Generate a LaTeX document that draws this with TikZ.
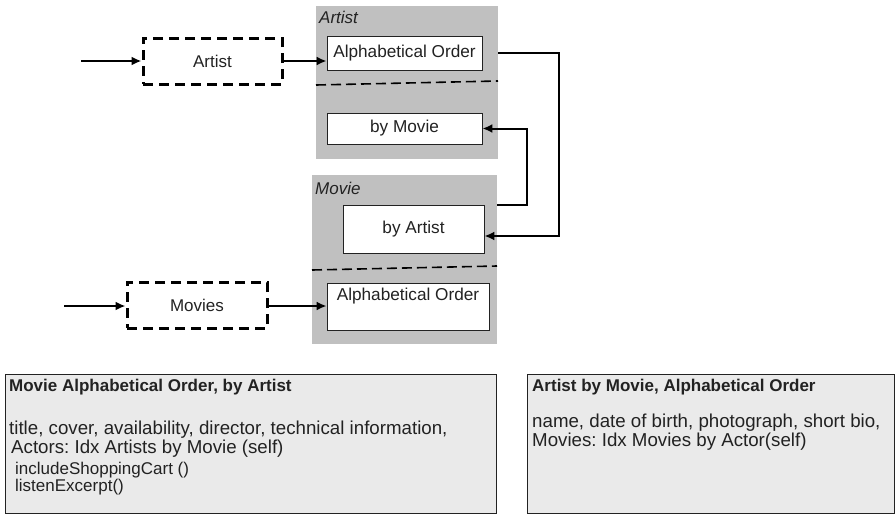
\documentclass[tikz,border=0pt]{standalone}
\usepackage{fontspec}
\setmainfont{Liberation Sans}
\usetikzlibrary{arrows.meta}
\definecolor{panelgray}{HTML}{C0C0C0}
\definecolor{notegray}{HTML}{EAEAEA}
\definecolor{inkgray}{HTML}{222222}
\newcommand{\headfont}{\fontsize{17}{18}\selectfont\bfseries}
\newcommand{\methfont}{\fontsize{17}{17}\selectfont}
\frenchspacing

\begin{document}
\begin{tikzpicture}[x=1pt, y=-1pt,
    panel/.style={fill=panelgray, inner sep=0pt, outer sep=0pt},
    tag/.style={text=inkgray, font=\fontsize{17}{18}\selectfont\itshape, inner sep=0pt},
    idx/.style={draw=inkgray, fill=white, line width=0.8pt, text=inkgray,
      font=\fontsize{17.2}{18}\selectfont, inner sep=0pt},
    entry/.style={draw=black, line width=3pt, dash pattern=on 10pt off 6pt,
      text=inkgray, font=\fontsize{17}{18}\selectfont, inner sep=0pt},
    flow/.style={-{Latex[length=10pt,width=9pt]}, line width=2pt},
    sep/.style={dash pattern=on 10pt off 5pt, line width=1.6pt},
    note/.style={draw=inkgray, fill=notegray, line width=1.2pt, inner sep=0pt},
    notetext/.style={text=inkgray, align=left, inner sep=0pt, anchor=north west,
      font=\fontsize{18.7}{17}\selectfont}]
  \useasboundingbox (0,0) rectangle (896,514);

  \node[panel, minimum width=182, minimum height=153] (artpanel) at (407,82.5) {};
  \node[panel, minimum width=185, minimum height=169] (movpanel) at (404.5,259.5) {};
  \node[tag, anchor=west] (arttag) at (319,17) {Artist};
  \node[tag, anchor=west] (movtag) at (315,188) {Movie};

  \node[idx, minimum width=155, minimum height=34] (artalpha) at (404.5,53) {Alphabetical Order};
  \node[idx, minimum width=155, minimum height=31] (artbymov) at (404.5,128.5) {by Movie};
  \node[idx, minimum width=141, minimum height=48] (movbyart) at (413.5,229) {by Artist};
  \node[idx, minimum width=162, text height=12, text depth=25, inner ysep=5]
    (movalpha) at (408,306.5) {Alphabetical Order};

  \draw[sep] (artpanel.west |- 0,85) -- (artpanel.east |- 0,81);
  \draw[sep] (movpanel.west |- 0,270) -- (movpanel.east |- 0,266);

  \node[entry, minimum width=139, minimum height=46] (artentry) at (212.5,61) {Artist};
  \node[entry, minimum width=140, minimum height=46] (moventry) at (197,305) {Movies};
  \coordinate (artsrc) at (81,61);
  \coordinate (movsrc) at (64,306);

  \draw[flow] (artsrc) -- (artsrc -| artentry.west);
  \draw[flow] (artentry.east) -- (artentry.east -| artalpha.west);
  \draw[flow] (movsrc) -- (movsrc -| moventry.west);
  \draw[flow] (movsrc -| moventry.east) -- (movsrc -| movalpha.west);

  \draw[flow] (artalpha.east -| artpanel.east) -- ++(61,0) |- ([yshift=-7pt]movbyart.east);
  \draw[flow] (movbyart.north -| movpanel.east) -- ++(30,0) |- (artbymov.east);

  \node[note, minimum width=491, minimum height=139, anchor=north west] (movnote) at (5,374) {};
  \node[note, minimum width=367, minimum height=139, anchor=north west] (artnote) at (527,374) {};

  \node[notetext] (movnotetext) at ([xshift=4pt,yshift=-5pt]movnote.north west)
    {\headfont Movie Alphabetical Order, by Artist\\[25pt]
     title, cover, availability, director, technical information,\\
     \hspace{2pt}Actors: Idx Artists by Movie (self)\\[4pt]
     \methfont\hspace{6pt}includeShoppingCart ()\\
     \methfont\hspace{6pt}listenExcerpt()};
  \node[notetext] (artnotetext) at ([xshift=5pt,yshift=-5pt]artnote.north west)
    {\headfont Artist by Movie, Alphabetical Order\\[18pt]
     name, date of birth, photograph, short bio,\\
     Movies: Idx Movies by Actor(self)};
\end{tikzpicture}
\end{document}
